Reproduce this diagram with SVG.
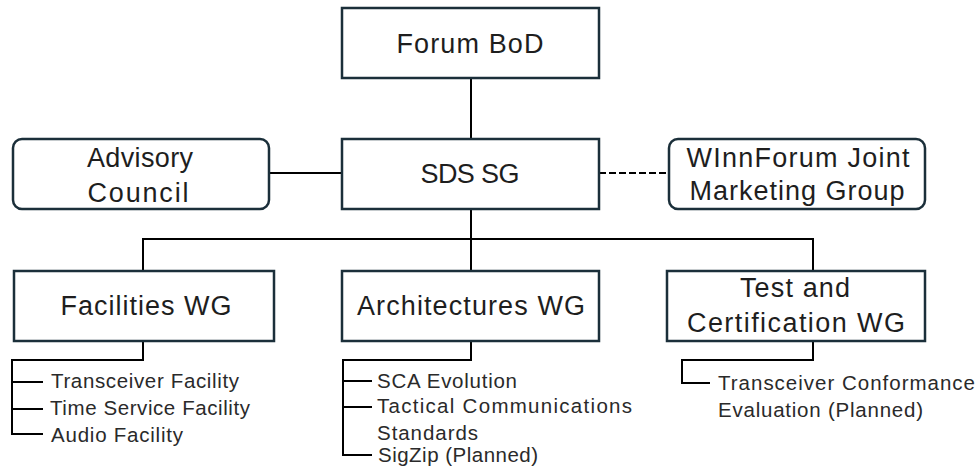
<svg xmlns="http://www.w3.org/2000/svg" width="977" height="470" viewBox="0 0 977 470">
<style>
.box{fill:#fff;stroke:#1b2f3a;stroke-width:2.5}
.ln{fill:none;stroke:#000;stroke-width:2}
.dash{fill:none;stroke:#000;stroke-width:2;stroke-dasharray:7 3}
.t{font-family:"Liberation Sans",Arial,sans-serif;font-size:27px;fill:#1e1e1e;text-anchor:middle}
.s{font-family:"Liberation Sans",Arial,sans-serif;font-size:20.5px;fill:#2a2a2a}
</style>
<rect width="977" height="470" fill="#fff"/>
<g id="connectors">
<line class="ln" x1="471" y1="78" x2="471" y2="139"/>
<line class="ln" x1="269" y1="173" x2="342" y2="173"/>
<line class="dash" x1="599" y1="173" x2="669" y2="173"/>
<polyline class="ln" points="471,209 471,239"/>
<polyline class="ln" points="143,271 143,239 813,239 813,271"/>
<line class="ln" x1="471" y1="239" x2="471" y2="271"/>
<polyline class="ln" points="143,341 143,360 12,360 12,434 43,434"/>
<line class="ln" x1="12" y1="382" x2="43" y2="382"/>
<line class="ln" x1="12" y1="409" x2="43" y2="409"/>
<polyline class="ln" points="471,341 471,360 343,360 343,455 372,455"/>
<line class="ln" x1="343" y1="381" x2="372" y2="381"/>
<line class="ln" x1="343" y1="407" x2="372" y2="407"/>
<polyline class="ln" points="813,341 813,360 682,360 682,383 710,383"/>
</g>
<g id="forum-bod">
<rect class="box" x="342" y="8" width="257" height="70"/>
<text class="t" x="470" y="53" textLength="147">Forum BoD</text>
</g>
<g id="sds-sg">
<rect class="box" x="342" y="139" width="257" height="70"/>
<text class="t" x="470" y="183" textLength="99">SDS SG</text>
</g>
<g id="advisory-council">
<rect class="box" x="13" y="139" width="256" height="70" rx="9"/>
<text class="t" x="140" y="167" textLength="106">Advisory</text>
<text class="t" x="138" y="202" textLength="101">Council</text>
</g>
<g id="winnforum-jmg">
<rect class="box" x="669" y="139" width="256" height="70" rx="9"/>
<text class="t" x="798" y="167" textLength="223">WInnForum Joint</text>
<text class="t" x="797" y="200" textLength="215">Marketing Group</text>
</g>
<g id="facilities-wg">
<rect class="box" x="14" y="271" width="260" height="70"/>
<text class="t" x="146" y="315" textLength="171">Facilities WG</text>
</g>
<g id="architectures-wg">
<rect class="box" x="342" y="271" width="257" height="70"/>
<text class="t" x="471" y="315" textLength="228">Architectures WG</text>
</g>
<g id="test-cert-wg">
<rect class="box" x="667" y="271" width="258" height="70"/>
<text class="t" x="795" y="297" textLength="110">Test and</text>
<text class="t" x="796" y="332" textLength="218">Certification WG</text>
</g>
<g id="facilities-items">
<text class="s" x="51" y="388" textLength="188">Transceiver Facility</text>
<text class="s" x="50" y="415" textLength="200">Time Service Facility</text>
<text class="s" x="51" y="442" textLength="132">Audio Facility</text>
</g>
<g id="architectures-items">
<text class="s" x="377" y="388" textLength="140">SCA Evolution</text>
<text class="s" x="377" y="413" textLength="255">Tactical Communications</text>
<text class="s" x="377" y="440" textLength="101">Standards</text>
<text class="s" x="378" y="462" textLength="160">SigZip (Planned)</text>
</g>
<g id="test-items">
<text class="s" x="718" y="390" textLength="257">Transceiver Conformance</text>
<text class="s" x="718" y="417" textLength="205">Evaluation (Planned)</text>
</g>
</svg>
